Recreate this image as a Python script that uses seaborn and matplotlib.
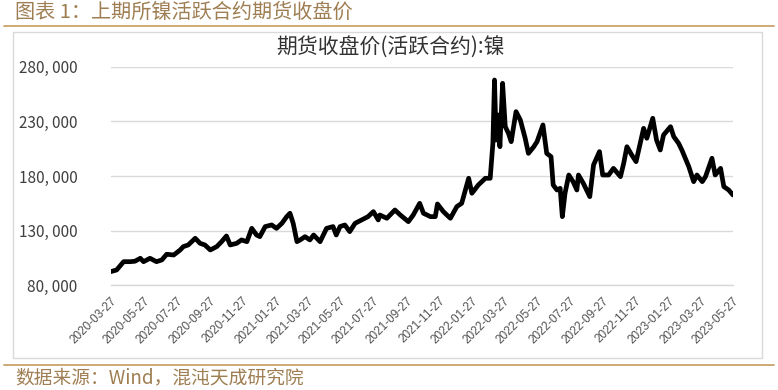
# -*- coding: utf-8 -*-

from matplotlib import pyplot as plt
from matplotlib.patches import Rectangle
from matplotlib.lines import Line2D
import matplotlib.ticker as mticker
import pandas as pd
import seaborn as sns


# SHFE nickel, active contract close (yuan/t)
dates = [
    "2020-03-27", "2020-04-07", "2020-04-20", "2020-05-02", "2020-05-11", "2020-05-21",
    "2020-05-27", "2020-06-08", "2020-06-20", "2020-06-30", "2020-07-09", "2020-07-22",
    "2020-08-03", "2020-08-09", "2020-08-18", "2020-08-31", "2020-09-09", "2020-09-18",
    "2020-09-28", "2020-10-10", "2020-10-19", "2020-10-28", "2020-11-04", "2020-11-16",
    "2020-11-25", "2020-12-05", "2020-12-14", "2020-12-23", "2020-12-29", "2021-01-08",
    "2021-01-20", "2021-01-29", "2021-02-08", "2021-02-17", "2021-02-23", "2021-03-01",
    "2021-03-08", "2021-03-14", "2021-03-23", "2021-04-01", "2021-04-08", "2021-04-20",
    "2021-05-02", "2021-05-14", "2021-05-20", "2021-05-27", "2021-06-05", "2021-06-14",
    "2021-06-24", "2021-07-06", "2021-07-18", "2021-07-28", "2021-08-06", "2021-08-09",
    "2021-08-22", "2021-09-06", "2021-09-16", "2021-10-01", "2021-10-10", "2021-10-22",
    "2021-10-29", "2021-11-11", "2021-11-20", "2021-11-24", "2021-12-05", "2021-12-18",
    "2021-12-30", "2022-01-08", "2022-01-14", "2022-01-21", "2022-01-27", "2022-02-08",
    "2022-02-21", "2022-03-02", "2022-03-07", "2022-03-10", "2022-03-13", "2022-03-17",
    "2022-03-20", "2022-03-25", "2022-03-30", "2022-04-05", "2022-04-10", "2022-04-19",
    "2022-04-27", "2022-05-06", "2022-05-12", "2022-05-22", "2022-05-28", "2022-06-08",
    "2022-06-15", "2022-06-23", "2022-06-27", "2022-07-04", "2022-07-10", "2022-07-14",
    "2022-07-19", "2022-07-26", "2022-08-03", "2022-08-10", "2022-08-13", "2022-08-22",
    "2022-09-03", "2022-09-10", "2022-09-21", "2022-09-27", "2022-10-08", "2022-10-17",
    "2022-10-30", "2022-11-05", "2022-11-11", "2022-11-20", "2022-11-28", "2022-12-12",
    "2022-12-18", "2022-12-29", "2023-01-05", "2023-01-12", "2023-01-18", "2023-01-31",
    "2023-02-06", "2023-02-15", "2023-02-21", "2023-03-06", "2023-03-15", "2023-03-21",
    "2023-03-31", "2023-04-06", "2023-04-18", "2023-04-24", "2023-05-04", "2023-05-10",
    "2023-05-19", "2023-05-27",
]
close = [
    92500, 94000, 101600, 101600, 102000, 104700,
    101600, 104700, 101600, 103200, 108400, 107700,
    112300, 115400, 116900, 123000, 118400, 116900,
    112300, 115400, 119900, 125100, 116900, 118400,
    121500, 119900, 132100, 126000, 124500, 133700,
    135200, 132100, 136700, 142800, 145900, 136700,
    119900, 121500, 124500, 121500, 126000, 119900,
    132100, 133700, 126000, 133700, 135200, 129100,
    136700, 139800, 142800, 147400, 139800, 144300,
    141300, 148900, 144300, 138200, 144300, 155000,
    145900, 142800, 142800, 154400, 147400, 141300,
    152000, 155000, 165700, 177900, 164200, 171800,
    177900, 177900, 209900, 267800, 212900, 235800,
    206800, 264800, 225100, 219000, 211400, 238900,
    231200, 214500, 200700, 206800, 211400, 226700,
    200700, 197700, 171800, 167200, 168700, 142800,
    164200, 180900, 174800, 167200, 180900, 173300,
    161100, 190100, 202300, 180900, 180900, 187000,
    179400, 191600, 206800, 199200, 193100, 223600,
    214500, 232800, 212900, 203800, 217500, 225100,
    216000, 209900, 203800, 188500, 174800, 180900,
    174800, 179400, 196200, 180900, 187000, 170300,
    167200, 162600,
]

x_ticks = [
    "2020-03-27", "2020-05-27", "2020-07-27", "2020-09-27", "2020-11-27",
    "2021-01-27", "2021-03-27", "2021-05-27", "2021-07-27", "2021-09-27",
    "2021-11-27", "2022-01-27", "2022-03-27", "2022-05-27", "2022-07-27",
    "2022-09-27", "2022-11-27", "2023-01-27", "2023-03-27", "2023-05-27",
]
y_ticks = [80000, 130000, 180000, 230000, 280000]

header = "图表 1：上期所镍活跃合约期货收盘价"
chart_title = "期货收盘价(活跃合约):镍"
source = "数据来源：Wind，混沌天成研究院"

sns.set_style("white")
plt.rcParams['font.family'] = ['Noto Sans CJK SC', 'DejaVu Sans']

gold = "#C9A36B"
brown = "#9E7E52"
grey = "#D9D9D9"

df = pd.DataFrame({"date": pd.to_datetime(dates), "close": close})

fig = plt.figure(figsize=(7.78, 3.9), dpi=100)
ax = fig.add_axes([0.1423, 0.2685, 0.8005, 0.5605])

sns.lineplot(data=df, x="date", y="close", color="black", linewidth=3.4, ax=ax)

ax.set_xlim(df["date"].min(), df["date"].max() + pd.Timedelta(days=1))
ax.set_ylim(y_ticks[0], y_ticks[-1])
ax.set_yticks(y_ticks)
ax.yaxis.set_major_formatter(mticker.FuncFormatter(lambda v, p: f"{v:,.0f}".replace(",", ", ")))
ax.set_xticks(pd.to_datetime(x_ticks))
ax.set_xticklabels(x_ticks, rotation=45, ha="right", rotation_mode="anchor",
                   fontsize=8.5, color="#505050", family="Liberation Sans")
ax.tick_params(axis="y", labelsize=11, labelcolor="#404040", length=0, pad=24)
ax.tick_params(axis="x", length=4, color=grey, width=1, pad=3, direction="out")
ax.set_xlabel("")
ax.set_ylabel("")

ax.grid(axis="y", color=grey, linewidth=1)
ax.grid(axis="x", visible=False)
for s in ["top", "right", "left"]:
    ax.spines[s].set_visible(False)
ax.spines["bottom"].set_color(grey)
ax.spines["bottom"].set_linewidth(1)

# chart title inside the frame
fig.text(0.502, 0.877, chart_title, ha="center", va="center", fontsize=15, color="#333333")

# outer frame and header/footer decoration
fig.patches.append(Rectangle((13 / 778, 1 - 358 / 390), 749 / 778, 326 / 390,
                             transform=fig.transFigure, fill=False, edgecolor=grey, linewidth=1))
fig.lines.append(Line2D([4 / 778, 774 / 778], [1 - 25.5 / 390] * 2, transform=fig.transFigure,
                        color=gold, linewidth=1.3))
fig.lines.append(Line2D([4 / 778, 774 / 778], [1 - 365 / 390] * 2, transform=fig.transFigure,
                        color=gold, linewidth=1.3))

fig.text(15 / 778, 1 - 12 / 390, header, ha="left", va="center", fontsize=14.5, color=brown)
fig.text(15 / 778, 1 - 378 / 390, source, ha="left", va="center", fontsize=13.5, color=brown)

fig.savefig("out.png", dpi=100)
